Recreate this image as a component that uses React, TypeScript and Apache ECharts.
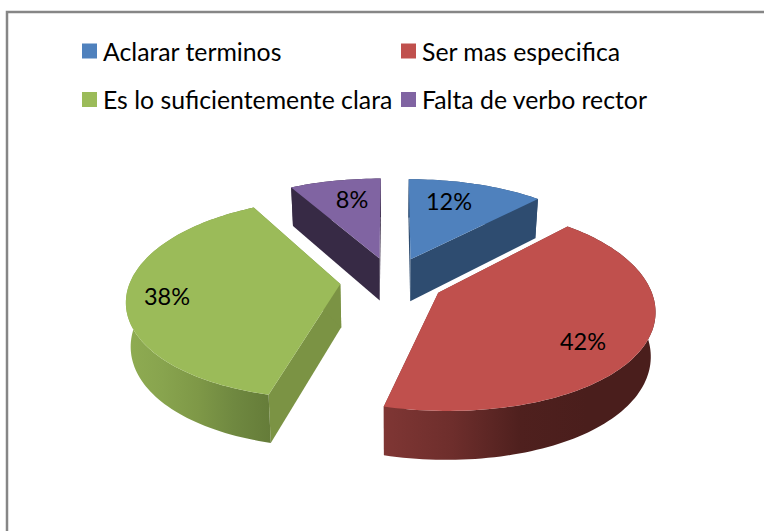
import React, { useEffect, useRef } from "react";
import * as echarts from "echarts";

const categories = ["Aclarar terminos", "Ser mas especifica", "Es lo suficientemente clara", "Falta de verbo rector"];
const values = [12, 42, 38, 8];
const topColors = ["#4f81bd", "#c0504d", "#9bbb59", "#8064a2"];
const cutColors = ["#2e4c70", "#7d3533", "#7b9344", "#372a45"];
const wallStops: string[][] = [
  ["#2e4c70", "#2e4c70"],
  ["#7f3634", "#6e2e2c", "#4f201e", "#4a1e1c", "#4a1e1c"],
  ["#8fac52", "#88a44e", "#7e9847", "#6f8840", "#657c39"],
  ["#372a45", "#372a45"],
];
const labelAnchors = [[449, 201], [583, 341], [167, 296], [352, 199]];
const FONT = "Lato, 'Noto Sans', sans-serif";

// Projection of the tilted, exploded pie
const CX = 392, CY = 281, A = 210, B = 97.4, KX = 0.14, QX = -0.02, KY = 0.144, EXPLODE = 0.247, BASE_SCALE = 0.982, DEPTH = 43;
const project = (X: number, Y: number, bottom: boolean): number[] => {
  const wx = 1 + KX * Y + QX * Y * Y;
  const wy = 1 + KY * Y;
  const s = bottom ? BASE_SCALE : 1;
  return [CX + (A * X * s) / wx, CY - (B * Y * s) / wy + (bottom ? DEPTH / wy : 0)];
};

const total = values.reduce((a, b) => a + b, 0);

function renderSlice(index: number) {
  return (_params: any, api: any) => {
    const before = values.slice(0, index).reduce((a, b) => a + b, 0);
    const v = api.value(0) as number;
    const a0 = (before / total) * Math.PI * 2;
    const a1 = ((before + v) / total) * Math.PI * 2;
    const mid = (a0 + a1) / 2;
    const ox = EXPLODE * Math.sin(mid);
    const oy = EXPLODE * Math.cos(mid);
    const steps = Math.max(8, Math.round(((a1 - a0) * 180) / Math.PI / 1.5));
    const rim: number[][] = [];
    for (let i = 0; i <= steps; i++) {
      const a = a0 + ((a1 - a0) * i) / steps;
      rim.push([ox + Math.sin(a), oy + Math.cos(a)]);
    }
    const topRim = rim.map((p) => project(p[0], p[1], false));
    const botRim = rim.map((p) => project(p[0], p[1], true));
    const apexT = project(ox, oy, false);
    const apexB = project(ox, oy, true);
    const stops = wallStops[index];
    const wallFill = new echarts.graphic.LinearGradient(
      0, 0, 1, 0,
      stops.map((color, i) => ({ offset: i / (stops.length - 1), color }))
    );
    const cut = cutColors[index];
    const poly = (points: number[][], fill: any) => ({
      type: "polygon",
      shape: { points },
      style: { fill, stroke: null },
    });
    const firstT = topRim[0], firstB = botRim[0];
    const lastT = topRim[steps], lastB = botRim[steps];
    const children: any[] = [
      poly([apexT, firstT, firstB, apexB], cut),
      poly([apexT, lastT, lastB, apexB], cut),
      poly([...topRim, ...botRim.slice().reverse()], wallFill),
      poly([apexT, ...topRim], topColors[index]),
      {
        type: "text",
        style: {
          text: `${v}%`,
          x: labelAnchors[index][0],
          y: labelAnchors[index][1],
          fill: "#000000",
          font: `23.5px ${FONT}`,
          align: "center",
          verticalAlign: "middle",
        },
      },
    ];
    return { type: "group", children };
  };
}

const legendBase = {
  orient: "vertical" as const,
  top: 38.5,
  itemWidth: 15,
  itemHeight: 15,
  itemGap: 23.5,
  icon: "rect",
  selectedMode: false,
  textStyle: { color: "#000000", fontFamily: FONT, fontSize: 24.8, padding: [0, 0, 0, 1] },
  padding: 0,
};

export default function App() {
  const ref = useRef<HTMLDivElement>(null);
  useEffect(() => {
    const chart = echarts.init(ref.current!, undefined, { renderer: "svg" });
    chart.setOption({
      animation: false,
      backgroundColor: "#ffffff",
      color: topColors,
      legend: [
        { ...legendBase, left: 82, data: [categories[0], categories[2]] },
        { ...legendBase, left: 401, data: [categories[1], categories[3]] },
      ],
      graphic: [
        {
          type: "polyline",
          shape: { points: [[7, 531], [7, 12], [764, 12]] },
          style: { stroke: "#868686", lineWidth: 2.5, fill: null },
        },
      ],
      series: categories.map((name, i) => ({
        type: "custom",
        name,
        coordinateSystem: "none",
        silent: true,
        itemStyle: { color: topColors[i] },
        data: [[values[i]]],
        renderItem: renderSlice(i),
      })),
    });
    return () => chart.dispose();
  }, []);
  return <div ref={ref} style={{ position: "absolute", left: 0, top: 0, width: 764, height: 531 }} />;
}
